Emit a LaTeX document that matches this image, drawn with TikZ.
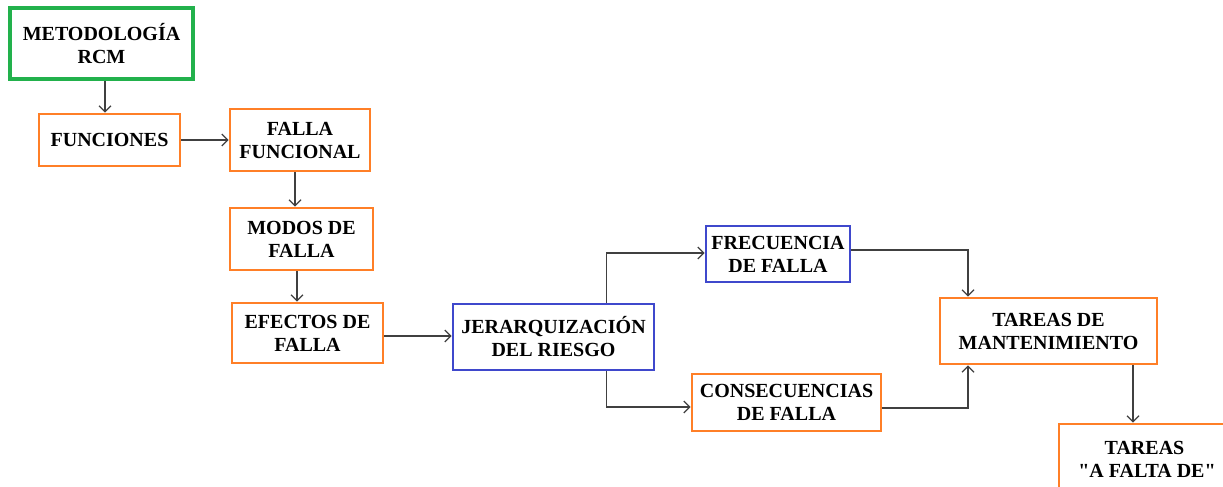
\documentclass[tikz,border=0pt]{standalone}
\usepackage{fontspec}
\setmainfont{Liberation Serif}
\usetikzlibrary{arrows.meta}
\definecolor{cgreen}{HTML}{22B14C}
\definecolor{corange}{HTML}{FF7F27}
\definecolor{cblue}{HTML}{3F48CC}
\definecolor{cline}{HTML}{404040}
\tikzset{
  box/.style={draw, fill=white, align=center, inner sep=2pt,
    font=\fontsize{20}{23}\selectfont\bfseries},
  gbox/.style={box, draw=cgreen, line width=3.2pt},
  obox/.style={box, draw=corange, line width=2.8pt},
  bbox/.style={box, draw=cblue, line width=2.8pt},
  arr/.style={draw=cline, line width=1.2pt, -{Straight Barb[length=6pt,width=12pt]}}
}
\begin{document}
\begin{tikzpicture}[x=1pt,y=-1pt]
\useasboundingbox (0,0) rectangle (1223,487);
\node[gbox, minimum width=183, minimum height=71] (meto) at (101.5,43.5) {METODOLOGÍA\\RCM};
\node[obox, minimum width=141, minimum height=52] (func) at (109.5,140) {FUNCIONES};
\node[obox, minimum width=140, minimum height=62] (fallaf) at (300,140) {FALLA\\FUNCIONAL};
\node[obox, minimum width=143, minimum height=62] (modos) at (301.5,239) {MODOS DE\\FALLA};
\node[obox, minimum width=151, minimum height=60] (efectos) at (307.5,333) {EFECTOS DE\\FALLA};
\node[bbox, minimum width=201, minimum height=66] (jerar) at (553.5,337) {JERARQUIZACIÓN\\DEL RIESGO};
\node[bbox, minimum width=144, minimum height=56] (frec) at (778,254) {FRECUENCIA\\DE FALLA};
\node[obox, minimum width=189, minimum height=57] (cons) at (786.5,402.5) {CONSECUENCIAS\\DE FALLA};
\node[obox, minimum width=217, minimum height=66] (tareas) at (1048.5,331) {TAREAS DE\\MANTENIMIENTO};
\node[obox, minimum width=171, minimum height=71] (tfalta) at (1144.5,459.5) {TAREAS\\\ \textquotedbl A FALTA DE\textquotedbl};

\draw[arr] ([xshift=3.5]meto.south) -- ([xshift=3.5]meto.south |- func.north);
\draw[arr] (func.east) -- (fallaf.west);
\draw[arr] ([xshift=-5]fallaf.south) -- ([xshift=-5]fallaf.south |- modos.north);
\draw[arr] ([xshift=-4.5]modos.south) -- ([xshift=-4.5]modos.south |- efectos.north);
\draw[arr] ([yshift=-3]efectos.east) -- ([yshift=-3]efectos.east -| jerar.west);
\draw[arr] ([xshift=53]jerar.north) |- ([yshift=1]frec.west);
\draw[arr] ([xshift=53]jerar.south) |- ([yshift=-4.5]cons.west);
\draw[arr] ([yshift=4]frec.east) -| ([xshift=-80.5]tareas.north);
\draw[arr] ([yshift=-5.5]cons.east) -| ([xshift=-80.5]tareas.south);
\draw[arr] ([xshift=84.5]tareas.south) -- ([xshift=84.5]tareas.south |- tfalta.north);
\end{tikzpicture}
\end{document}
